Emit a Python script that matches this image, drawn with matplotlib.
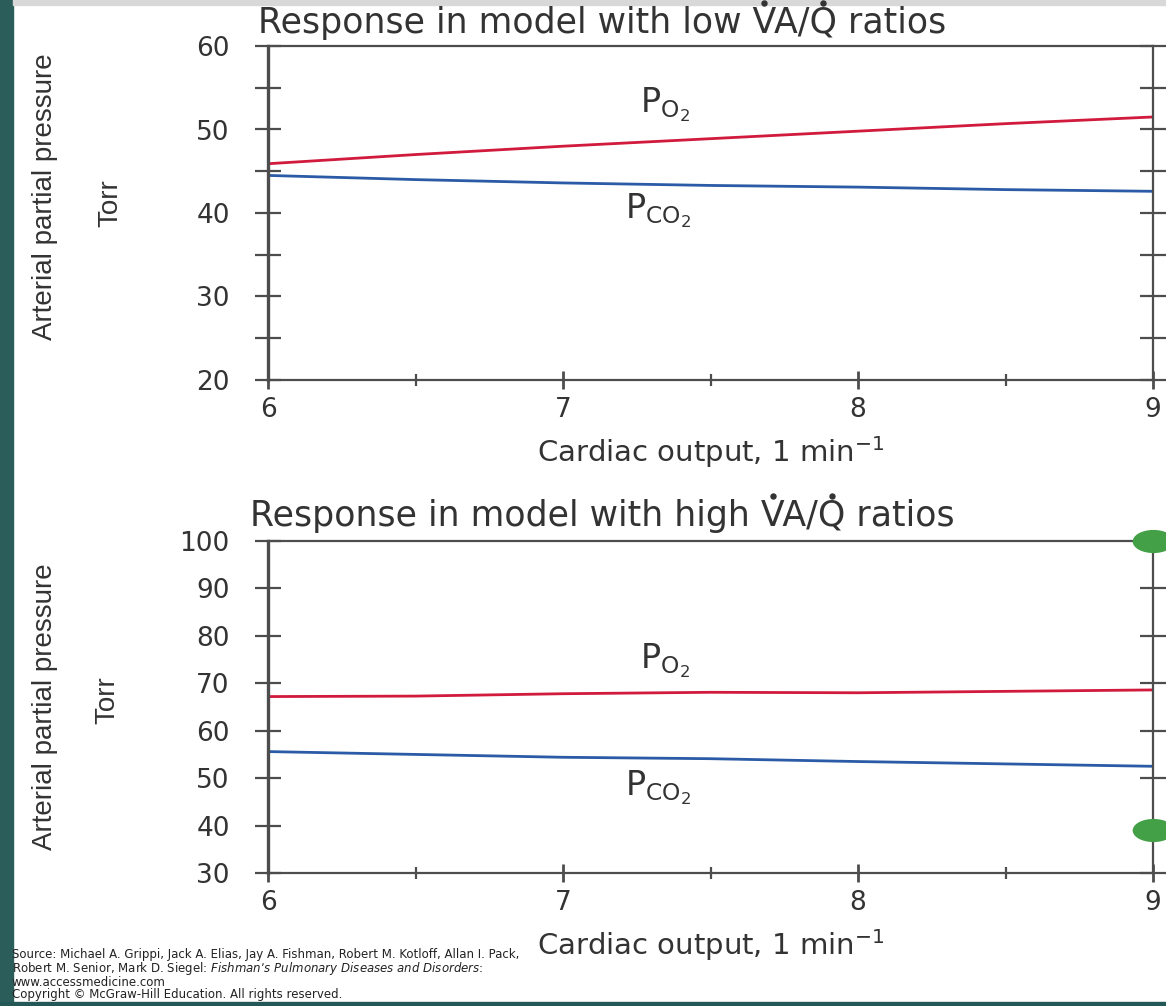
import numpy as np
import matplotlib
matplotlib.use("Agg")
import matplotlib.pyplot as plt
from matplotlib.path import Path
from matplotlib.transforms import Affine2D
from matplotlib.patches import Rectangle
from matplotlib.lines import Line2D

# cardiac output (l/min) and arterial partial pressures (Torr)
cardiac = [6, 6.5, 7, 7.5, 8, 8.5, 9]
low_po2 = [45.9, 47.0, 48.0, 48.9, 49.8, 50.7, 51.5]
low_pco2 = [44.5, 44.0, 43.6, 43.3, 43.1, 42.8, 42.6]
high_po2 = [67.2, 67.3, 67.8, 68.1, 68.0, 68.3, 68.6]
high_pco2 = [55.6, 55.0, 54.4, 54.1, 53.5, 53.0, 52.5]
dot_x = [9, 9]
dot_y = [100, 39]

titles = ["Response in model with low VA/Q ratios",
          "Response in model with high VA/Q ratios"]
xlabel = r"Cardiac output, 1 min$\mathregular{^{-1}}$"
ylabel = "Arterial partial pressure"
source = ("Source: Michael A. Grippi, Jack A. Elias, Jay A. Fishman, Robert M. Kotloff, Allan I. Pack,\n"
          "Robert M. Senior, Mark D. Siegel: $\\mathit{Fishman\u2019s\\ Pulmonary\\ Diseases\\ and\\ Disorders}$:\n"
          "www.accessmedicine.com\n"
          "Copyright \u00a9 McGraw-Hill Education. All rights reserved.")

plt.rcParams['font.family'] = ['DejaVu Sans']
plt.rcParams['mathtext.fontset'] = 'dejavusans'

W, H = 1166, 1006
fig = plt.figure(figsize=(W / 100, H / 100), dpi=100)
fig.patch.set_facecolor('white')

def fx(px):
    return px / W

def fy(py):
    return 1 - py / H

# frame strips of the original slide
fig.patches.append(Rectangle((0, 0), fx(13), 1, transform=fig.transFigure, color='#2b5e5b', zorder=0))
fig.patches.append(Rectangle((fx(13), fy(5)), 1, 1, transform=fig.transFigure, color='#d8d8d8', zorder=0))
fig.patches.append(Rectangle((0, 0), 1, fy(1002), transform=fig.transFigure, color='#245856', zorder=0))

ax1 = fig.add_axes([fx(268), fy(380), fx(1153) - fx(268), fy(46) - fy(380)], zorder=2)
ax2 = fig.add_axes([fx(268), fy(873), fx(1153) - fx(268), fy(541) - fy(873)], zorder=2)

grey = '#4d4d4d'
txt = '#333333'
red = '#d11a3c'
blue = '#2b5aa6'


def style(ax, ymin, ymax, step, minor):
    ax.set_xlim(6, 9)
    ax.set_ylim(ymin, ymax)
    ax.patch.set_alpha(0)
    for s in ax.spines.values():
        s.set_color(grey)
        s.set_linewidth(1.6)
    ax.spines['left'].set_linewidth(2.4)
    ax.set_xticks([6, 7, 8, 9])
    ax.set_xticks([6.5, 7.5, 8.5], minor=True)
    ax.set_yticks(np.arange(ymin, ymax + 1, step))
    if minor:
        ax.set_yticks(np.arange(ymin + step / 2, ymax, step), minor=True)
    ax.tick_params(axis='y', which='both', direction='inout', length=19, width=1.6,
                   color=grey, right=True, labelsize=19, labelcolor=txt, pad=18)
    ax.tick_params(axis='x', which='major', direction='inout', length=13, width=2.0,
                   color=grey, labelsize=19, labelcolor=txt, pad=6)
    ax.tick_params(axis='x', which='minor', direction='inout', length=9, width=1.6, color=grey)
    ax.set_xlabel(xlabel, fontsize=21, color=txt, labelpad=8)


style(ax1, 20, 60, 10, True)
style(ax2, 30, 100, 10, False)

ax1.plot(cardiac, low_po2, color=red, lw=2.0)
ax1.plot(cardiac, low_pco2, color=blue, lw=2.0)
ax2.plot(cardiac, high_po2, color=red, lw=2.0)
ax2.plot(cardiac, high_pco2, color=blue, lw=2.0)

po2 = r"$\mathregular{P_{O_2}}$"
pco2 = r"$\mathregular{P_{CO_2}}$"
ax1.text(7.26, 52.0, po2, fontsize=24, color=txt, va='baseline')
ax1.text(7.21, 39.4, pco2, fontsize=24, color=txt, va='baseline')
ax2.text(7.26, 73.2, po2, fontsize=24, color=txt, va='baseline')
ax2.text(7.21, 46.4, pco2, fontsize=24, color=txt, va='baseline')

# green end markers (wide ellipses)
ell = Path.unit_circle().transformed(Affine2D().scale(1.8, 1.0))
ax2.scatter(dot_x, dot_y, marker=ell, s=900, color='#43a047', clip_on=False, zorder=5, linewidths=0)

# titles, with the flow dots placed over V and Q
tsize = 25
renderer = fig.canvas.get_renderer()


def title(x_px, base_px, s):
    fig.text(fx(x_px), fy(base_px), s, fontsize=tsize, color=txt, ha='left', va='baseline')
    cap = tsize * 100 / 72 * 0.73
    for letter in ("V", "Q"):
        i = s.index(letter, 20)
        tmp = fig.text(fx(x_px), fy(base_px), s[:i + 1], fontsize=tsize, ha='left', va='baseline')
        end = tmp.get_window_extent(renderer).x1
        tmp.set_text(letter)
        w = tmp.get_window_extent(renderer).width
        tmp.remove()
        fig.add_artist(Line2D([(end - w / 2) / W], [fy(base_px - cap - 5)], marker='o', ms=3.6,
                              color=txt, linestyle='none', transform=fig.transFigure))


title(258, 33, titles[0])
title(250, 526, titles[1])

for cy in (197, 707):
    fig.text(fx(45), fy(cy), ylabel, rotation=90, fontsize=20, color=txt,
             family=['Liberation Sans'], ha='center', va='center')
for cx, cy in ((110, 203), (107, 700)):
    fig.text(fx(cx), fy(cy), "Torr", rotation=90, fontsize=20, color=txt,
             family=['Liberation Sans'], ha='center', va='center')

# source block
fig.text(fx(12), fy(1001), source, fontsize=8.5, color='#222222', ha='left', va='bottom',
         linespacing=0.9)

fig.savefig("out.png", dpi=100, facecolor=fig.get_facecolor())
